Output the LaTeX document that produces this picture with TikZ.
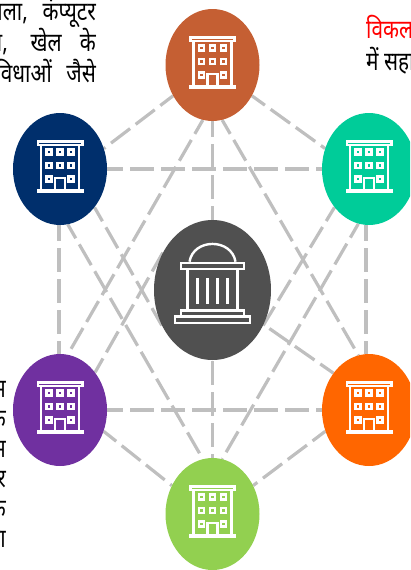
\documentclass[tikz,border=0pt]{standalone}
\usepackage{fontspec}
\newfontfamily\hindi[Script=Devanagari]{Noto Sans}
\usetikzlibrary{shapes.geometric,backgrounds}
\definecolor{rust}{HTML}{C55F33}
\definecolor{navy}{HTML}{002F6C}
\definecolor{teal}{HTML}{00CC99}
\definecolor{violet}{HTML}{7030A0}
\definecolor{tangerine}{HTML}{FF6600}
\definecolor{lime}{HTML}{92D050}
\definecolor{slate}{HTML}{505050}
\definecolor{linkgray}{HTML}{BFBFBF}
\tikzset{
  branch/.style={ellipse,minimum width=94pt,minimum height=112pt,inner sep=0pt,fill=#1},
  hub/.style={ellipse,minimum width=117pt,minimum height=140pt,inner sep=0pt,fill=slate},
  link/.style={linkgray,line width=3.2pt,dash pattern=on 24pt off 7pt,dash phase=8pt},
  words/.style={anchor=base east,inner sep=0pt,xscale=0.8,font=\hindi\fontsize{26}{26}\selectfont},
  icon/.style={white,line width=2.6pt},
  building/.pic={
    \draw[icon] (-22.2,-27.7) rectangle (22.2,-24.2);
    \draw[icon] (-19,-24) -- (-19,21) (19,-24) -- (19,21);
    \draw[icon] (-22.2,21) rectangle (22.2,22.7);
    \foreach \x in {-11,0,11}
      \foreach \y in {-17,-3.5}
        \draw[icon] (\x-2.6,\y-2.6) rectangle (\x+2.6,\y+2.6);
    \foreach \x in {-11,11}
      \draw[icon] (\x-2.6,10-2.6) rectangle (\x+2.6,10+2.6);
    \draw[icon] (-5,21) -- (-5,9) -- (5,9) -- (5,21);
  },
  temple/.pic={
    \draw[icon,line width=2.4pt] (-23,-28.3) .. controls (-19,-52) and (19,-52) .. (23,-28.3);
    \draw[icon,line width=2.4pt] (-31.3,-27.1) rectangle (31.3,-21.2);
    \draw[icon,line width=2.4pt] (-25,-21) -- (-25,20) (25,-21) -- (25,20);
    \foreach \x in {-15,-5,5,15}
      \draw[icon,line width=2.4pt] (\x,-11.7) -- (\x,14.3);
    \draw[icon,line width=2.4pt] (-31.3,20.5) rectangle (31.3,26.6);
    \draw[icon,line width=2.4pt] (-37.3,26.6) rectangle (37.3,32.8);
  }
}
\begin{document}
\begin{tikzpicture}[x=1pt,y=-1pt]
\useasboundingbox (0,0) rectangle (410,570);
\clip (0,0) rectangle (410,570);
% the circles
\node [branch=rust] (top) at (212.5,65) {};
\node [branch=navy] (upleft) at (60,169) {};
\node [branch=teal] (upright) at (369,169) {};
\node [branch=violet] (lowleft) at (60,410) {};
\node [branch=tangerine] (lowright) at (369,410) {};
\node [branch=lime] (bottom) at (212.5,514) {};
\node [hub] (centre) at (212.5,290) {};
% the links behind them
\begin{scope}[on background layer]
  \foreach \a/\b in {top.218/upleft.25,top.-38/upright.155,top.-100/lowleft.82,top.-80/lowright.101,
      top.south/bottom.north,upleft.east/upright.west,upleft.-91/lowleft.91,upleft.-82/bottom.100,
      upright.-93/lowright.93,upright.-101/bottom.80,lowleft.east/lowright.west,
      lowleft.-26/bottom.145,lowright.206/bottom.35,
      upleft.-48/centre.215,upright.228/centre.-35,lowleft.47/centre.143,lowright.134/centre.-34}
    \draw [link] (\a) -- (\b);
\end{scope}
% the icons
\foreach \n in {top,upleft,upright,lowleft,lowright,bottom}
  \pic at (\n) {building};
\pic at (centre) {temple};
% the text cut off by the page
\node [words] (wordA) at (28,20) {शाला,};
\node [words] (wordB) at (96,20) {कंप्यूटर};
\node [words] (wordC) at (8,51.5) {तथा,};
\node [words] (wordD) at (62,51.5) {खेल};
\node [words] (wordE) at (96,51.5) {के};
\node [words] (wordF) at (52,82) {सुविधाओं};
\node [words] (wordG) at (96,82) {जैसे};
\node [words,anchor=base west,text=red] (wordH) at (366,38) {विकल};
\node [words,anchor=base west] (wordI) at (366,70) {में सहायता};
\foreach \t [count=\i] in {म,क,म,र,क,ता}
  \node [words] (side\i) at (6,367+30*\i) {\t};
\end{tikzpicture}
\end{document}
